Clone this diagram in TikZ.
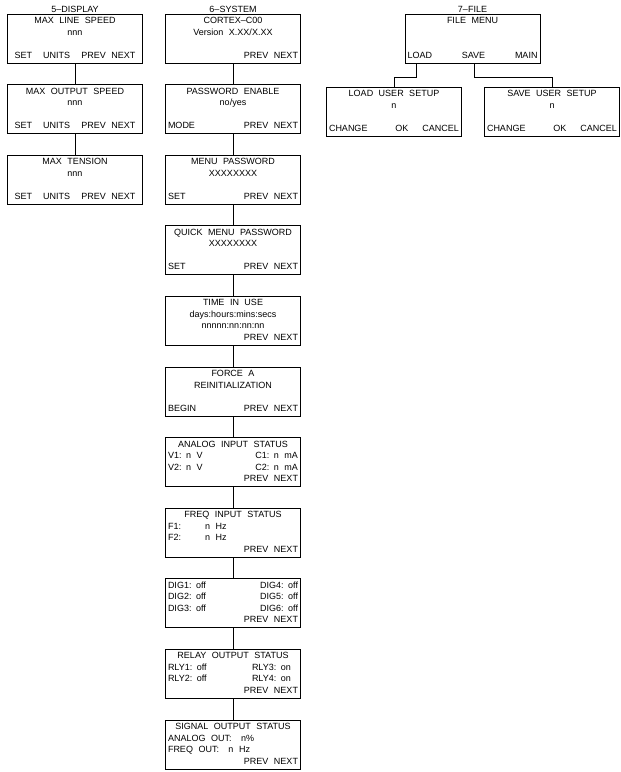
\documentclass[tikz,border=0pt]{standalone}
\usepackage{fontspec}
\setmainfont{Liberation Sans}
\newcommand{\lcdfont}{\fontsize{9}{11.5}\selectfont}
\newcommand{\lcdrow}[1]{\hbox to \hsize{\spaceskip=5.5pt plus 1pt\strut #1}\par}
\tikzstyle{display} = [
    rectangle,
    minimum width=135pt,
    minimum height=49pt,
    text width=121pt,
    inner xsep=7pt,
    inner ysep=1pt,
    line width=0.8pt,
    font=\lcdfont,
    draw=black
]
\tikzstyle{screen} = [
    display,
    text width=130pt,
    inner xsep=2.5pt
]
\tikzstyle{caption} = [anchor=south, inner sep=1pt, font=\lcdfont]
\tikzstyle{link} = [line width=0.8pt]

\begin{document}
\begin{tikzpicture}[node distance=70.6pt]
\useasboundingbox (0pt,0pt) rectangle (621pt,-772pt);

\node (disp1) [display] at (75pt,-38.5pt)
{\lcdrow{\hfil MAX LINE SPEED\hfil}\lcdrow{\hfil nnn\hfil}\lcdrow{}\lcdrow{SET\hfill UNITS\hfill PREV NEXT}};

\node (disp2) [display, below of=disp1]
{\lcdrow{\hfil MAX OUTPUT SPEED\hfil}\lcdrow{\hfil nnn\hfil}\lcdrow{}\lcdrow{SET\hfill UNITS\hfill PREV NEXT}};

\node (disp3) [display, below of=disp2]
{\lcdrow{\hfil MAX TENSION\hfil}\lcdrow{\hfil nnn\hfil}\lcdrow{}\lcdrow{SET\hfill UNITS\hfill PREV NEXT}};

\node (sys1) [screen] at (233pt,-38.5pt)
{\lcdrow{\hfil CORTEX--C00\hfil}\lcdrow{\hfil Version X.XX/X.XX\hfil}\lcdrow{}\lcdrow{\hfill PREV NEXT}};

\node (sys2) [screen, below of=sys1]
{\lcdrow{\hfil PASSWORD ENABLE\hfil}\lcdrow{\hfil no/yes\hfil}\lcdrow{}\lcdrow{MODE\hfill PREV NEXT}};

\node (sys3) [screen, below of=sys2]
{\lcdrow{\hfil MENU PASSWORD\hfil}\lcdrow{\hfil XXXXXXXX\hfil}\lcdrow{}\lcdrow{SET\hfill PREV NEXT}};

\node (sys4) [screen, below of=sys3]
{\lcdrow{\hfil QUICK MENU PASSWORD\hfil}\lcdrow{\hfil XXXXXXXX\hfil}\lcdrow{}\lcdrow{SET\hfill PREV NEXT}};

\node (sys5) [screen, below of=sys4]
{\lcdrow{\hfil TIME IN USE\hfil}\lcdrow{\hfil days:hours:mins:secs\hfil}\lcdrow{\hfil nnnnn:nn:nn:nn\hfil}\lcdrow{\hfill PREV NEXT}};

\node (sys6) [screen, below of=sys5]
{\lcdrow{\hfil FORCE A\hfil}\lcdrow{\hfil REINITIALIZATION\hfil}\lcdrow{}\lcdrow{BEGIN\hfill PREV NEXT}};

\node (sys7) [screen, below of=sys6]
{\lcdrow{\hfil ANALOG INPUT STATUS\hfil}\lcdrow{V1: n V\hfill C1: n mA}\lcdrow{V2: n V\hfill C2: n mA}\lcdrow{\hfill PREV NEXT}};

\node (sys8) [screen, below of=sys7]
{\lcdrow{\hfil FREQ INPUT STATUS\hfil}\lcdrow{\makebox[37pt][l]{F1:}n Hz\hfill}\lcdrow{\makebox[37pt][l]{F2:}n Hz\hfill}\lcdrow{\hfill PREV NEXT}};

\node (sys9) [screen, below of=sys8]
{\lcdrow{DIG1: off\hfill DIG4: off}\lcdrow{DIG2: off\hfill DIG5: off}\lcdrow{DIG3: off\hfill DIG6: off}\lcdrow{\hfill PREV NEXT}};

\node (sys10) [screen, below of=sys9]
{\lcdrow{\hfil RELAY OUTPUT STATUS\hfil}\lcdrow{RLY1: off\hfill\makebox[46pt][l]{RLY3: on}}\lcdrow{RLY2: off\hfill\makebox[46pt][l]{RLY4: on}}\lcdrow{\hfill PREV NEXT}};

\node (sys11) [screen, below of=sys10]
{\lcdrow{\hfil SIGNAL OUTPUT STATUS\hfil}\lcdrow{ANALOG OUT:\hspace{4pt} n\%\hfill}\lcdrow{FREQ OUT:\hspace{4pt} n Hz\hfill}\lcdrow{\hfill PREV NEXT}};

\node (file) [screen] at (472.5pt,-38.5pt)
{\lcdrow{\hfil FILE MENU\hfil}\lcdrow{}\lcdrow{}\lcdrow{LOAD\hfill SAVE\hfill MAIN}};

\node (load) [screen] at (394pt,-111.5pt)
{\lcdrow{\hfil LOAD USER SETUP\hfil}\lcdrow{\hfil n\hfil}\lcdrow{}\lcdrow{CHANGE\hspace{0pt plus 2fill}OK\hfill CANCEL}};

\node (save) [screen] at (552pt,-111.5pt)
{\lcdrow{\hfil SAVE USER SETUP\hfil}\lcdrow{\hfil n\hfil}\lcdrow{}\lcdrow{CHANGE\hspace{0pt plus 2fill}OK\hfill CANCEL}};

\node (disphead) [caption] at (disp1.north) {5--DISPLAY};
\node (syshead) [caption] at (sys1.north) {6--SYSTEM};
\node (filehead) [caption] at (file.north) {7--FILE};

\draw [link] (disp1) -- (disp2);
\draw [link] (disp2) -- (disp3);
\draw [link] (sys1) -- (sys2);
\draw [link] (sys2) -- (sys3);
\draw [link] (sys3) -- (sys4);
\draw [link] (sys4) -- (sys5);
\draw [link] (sys5) -- (sys6);
\draw [link] (sys6) -- (sys7);
\draw [link] (sys7) -- (sys8);
\draw [link] (sys8) -- (sys9);
\draw [link] (sys9) -- (sys10);
\draw [link] (sys10) -- (sys11);
\draw [link] ([xshift=12pt]file.south west) -- ++(0,-14pt) -| (load.north);
\draw [link] ([xshift=1.5pt]file.south) -- ++(0,-14pt) -| (save.north);

\end{tikzpicture}
\end{document}
